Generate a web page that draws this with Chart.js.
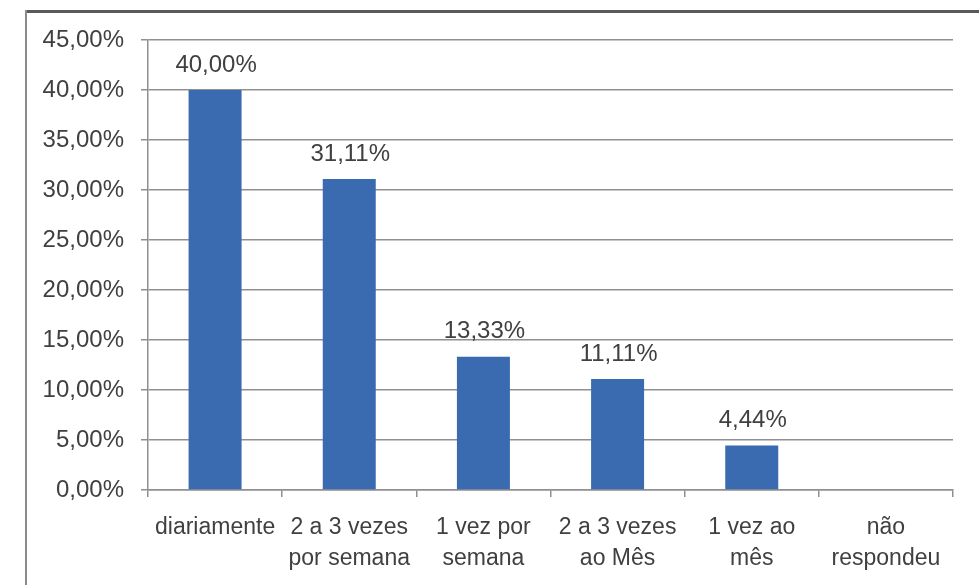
<!DOCTYPE html>
<html>
<head>
<meta charset="utf-8">
<script src="https://cdn.jsdelivr.net/npm/chart.js@4/dist/chart.umd.min.js"></script>
<style>
  html, body { margin: 0; padding: 0; background: #ffffff; }
  #wrap { width: 979px; height: 585px; position: relative; }
</style>
</head>
<body>
<div id="wrap"><canvas id="chart"></canvas></div>
<script>
// Frequência de resposta por categoria
const categories = [
  'diariamente',
  ['2 a 3 vezes', 'por semana'],
  ['1 vez por', 'semana'],
  ['2 a 3 vezes', 'ao Mês'],
  ['1 vez ao', 'mês'],
  ['não', 'respondeu']
];
const percentages = [40.00, 31.11, 13.33, 11.11, 4.44, 0];
const yTickMax = 45;
const yTickStep = 5;

const FONT = '"Liberation Sans", Arial, sans-serif';
const TEXT = '#404040';
const GRID = '#909090';
const BAR = '#3a6bb1';

const fmt = v => v.toFixed(2).replace('.', ',') + '%';

// White background plus the outer frame (top and left edges)
const framePlugin = {
  id: 'frame',
  beforeDraw(chart) {
    const ctx = chart.ctx;
    ctx.save();
    ctx.fillStyle = '#ffffff';
    ctx.fillRect(0, 0, chart.width, chart.height);
    ctx.strokeStyle = '#5a5a5a';
    ctx.lineWidth = 3;
    ctx.beginPath();
    ctx.moveTo(25, 11.5);
    ctx.lineTo(chart.width, 11.5);
    ctx.stroke();
    ctx.strokeStyle = '#8a8a8a';
    ctx.lineWidth = 2;
    ctx.beginPath();
    ctx.moveTo(26, 10);
    ctx.lineTo(26, chart.height);
    ctx.stroke();
    ctx.restore();
  }
};

// Value labels above each bar
const valueLabels = {
  id: 'valueLabels',
  afterDatasetsDraw(chart) {
    const ctx = chart.ctx;
    const meta = chart.getDatasetMeta(0);
    ctx.save();
    ctx.font = '24px ' + FONT;
    ctx.fillStyle = TEXT;
    ctx.textAlign = 'center';
    ctx.textBaseline = 'middle';
    meta.data.forEach((bar, i) => {
      const v = percentages[i];
      if (!v) return;
      ctx.fillText(fmt(v), bar.x + 1, bar.y - 25);
    });
    ctx.restore();
  }
};

new Chart(document.getElementById('chart'), {
  type: 'bar',
  data: {
    labels: categories,
    datasets: [{
      data: percentages,
      backgroundColor: BAR,
      borderWidth: 0,
      categoryPercentage: 1,
      barPercentage: 0.395
    }]
  },
  options: {
    responsive: true,
    maintainAspectRatio: false,
    animation: false,
    events: [],
    layout: { padding: { top: 40, right: 26, bottom: 0, left: 0 } },
    plugins: {
      legend: { display: false },
      tooltip: { enabled: false }
    },
    scales: {
      x: {
        grid: {
          offset: true,
          drawOnChartArea: false,
          drawTicks: true,
          tickLength: 7,
          color: GRID,
          lineWidth: 1.5
        },
        border: { display: true, color: GRID, width: 1.5 },
        ticks: {
          color: TEXT,
          font: { family: FONT, size: 23, lineHeight: 1.35 },
          padding: 15,
          maxRotation: 0,
          autoSkip: false
        },
        afterFit(scale) { scale.height = 95; }
      },
      y: {
        min: 0,
        max: yTickMax,
        grid: {
          color: GRID,
          lineWidth: 1.5,
          drawTicks: true,
          tickLength: 7
        },
        border: { display: true, color: GRID, width: 1.5 },
        ticks: {
          stepSize: yTickStep,
          color: TEXT,
          font: { family: FONT, size: 24 },
          padding: 17,
          callback: v => fmt(v)
        },
        afterFit(scale) { scale.width = 148; }
      }
    }
  },
  plugins: [framePlugin, valueLabels]
});
</script>
</body>
</html>
